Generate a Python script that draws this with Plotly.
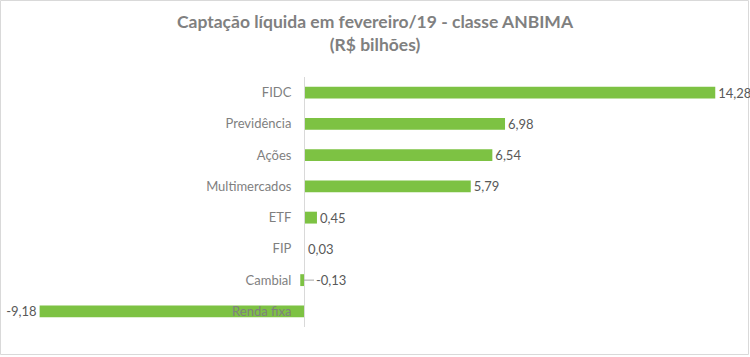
import plotly.graph_objects as go

categories = ["FIDC", "Previdência", "Ações", "Multimercados", "ETF", "FIP", "Cambial", "Renda fixa"]
values = [14.28, 6.98, 6.54, 5.79, 0.45, 0.03, -0.13, -9.18]
title_lines = ["Captação líquida em fevereiro/19 - classe ANBIMA", "(R$ bilhões)"]

FONT = "Lato"
GREEN = "#7DC243"
LABEL_GREY = "#595959"
CAT_GREY = "#7F7F7F"

def fmt(v):
    return f"{v:.2f}".replace(".", ",")

W, H = 750, 357
L, R, T, B = 16, 14, 77, 30
xmin, xmax = -10, 15

special = "Cambial"
texts = [("" if c == special else fmt(v)) for c, v in zip(categories, values)]

fig = go.Figure()
fig.add_trace(go.Bar(
    x=values, y=categories, orientation="h",
    marker=dict(color=GREEN, line=dict(width=0)),
    text=texts, textposition="outside", cliponaxis=False, constraintext="none",
    textfont=dict(family=FONT, size=13, color=LABEL_GREY),
    hoverinfo="skip",
))

annotations = []
for c, v in zip(categories, values):
    if c == special:
        annotations.append(dict(
            x=0, y=c, xref="x", yref="y", text=fmt(v), showarrow=True,
            arrowhead=0, arrowwidth=1, arrowcolor="#A6A6A6", ax=10, ay=0,
            xanchor="left", font=dict(family=FONT, size=13, color=LABEL_GREY),
        ))

pw = W - L - R
ph = H - T - B
fig.update_layout(
    width=W, height=H,
    margin=dict(l=L, r=R, t=T, b=B, autoexpand=False),
    paper_bgcolor="white", plot_bgcolor="white",
    showlegend=False,
    bargap=0.62,
    title=dict(
        text="<b>" + title_lines[0] + "</b><br><b>" + title_lines[1] + "</b>",
        x=0.5, xanchor="center", y=1 - 28 / H, yanchor="top",
        font=dict(family=FONT, size=17.5, color="#808080"),
    ),
    xaxis=dict(range=[xmin, xmax], visible=False, showgrid=False, zeroline=False),
    yaxis=dict(
        categoryorder="array", categoryarray=categories, autorange="reversed",
        anchor="free", position=(0 - xmin) / (xmax - xmin),
        showline=True, linecolor="#D9D9D9", linewidth=1,
        showgrid=False, zeroline=False, ticks="",
        ticklabelstandoff=10, automargin=False,
        tickfont=dict(family=FONT, size=13, color=CAT_GREY),
    ),
    annotations=annotations,
    shapes=[dict(
        type="rect", xref="paper", yref="paper",
        x0=(0.5 - L) / pw, x1=(W - 1.5 - L) / pw,
        y0=-(B - 2.5) / ph, y1=1 + (T - 0.5) / ph,
        line=dict(color="#D9D9D9", width=1), fillcolor="rgba(0,0,0,0)", layer="below",
    )],
)

fig.write_html(
    "out.html",
    config={"displayModeBar": False},
    post_script="document.body.style.margin='0';document.body.style.overflow='hidden';",
)
